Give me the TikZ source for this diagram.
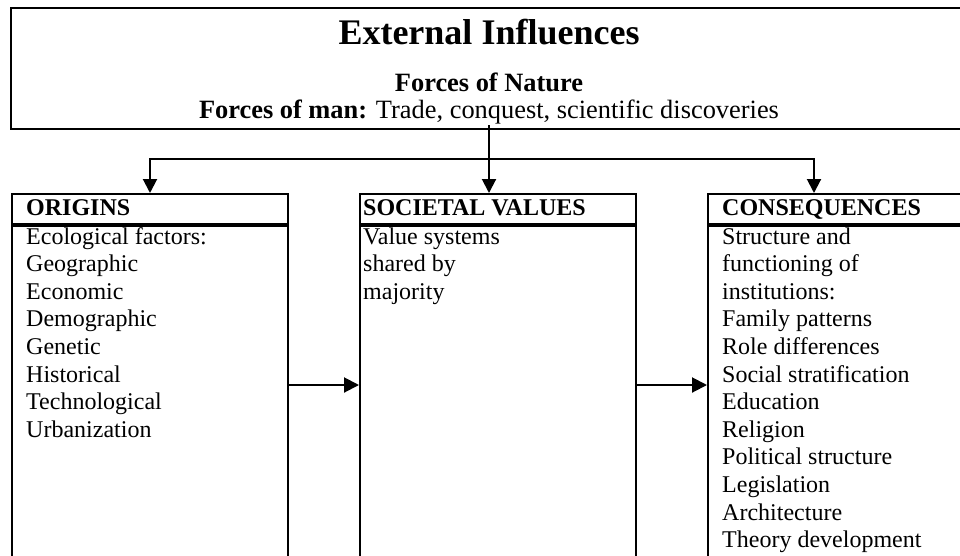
\documentclass[tikz,border=0pt]{standalone}
\usepackage{fontspec}
\setmainfont{Liberation Serif}
\usetikzlibrary{arrows.meta,positioning}

\begin{document}
\begin{tikzpicture}[
    x=1pt, y=-1pt,
    >=Triangle,
    frame/.style={rectangle, draw=black, line width=2pt, inner sep=0pt, anchor=north west},
    title/.style={anchor=base, inner sep=0pt, font=\fontsize{36}{40}\selectfont\bfseries},
    subline/.style={anchor=base, inner sep=0pt, font=\fontsize{26.4}{30}\selectfont},
    headtext/.style={anchor=base west, inner sep=0pt, font=\fontsize{24}{27.6}\selectfont\bfseries},
    bodytext/.style={anchor=base west, inner sep=0pt, font=\fontsize{24}{27.6}\selectfont},
    arrow/.style={-{Triangle[length=15pt,width=15pt]}, line width=2pt, color=black}
]

\useasboundingbox (0,0) rectangle (960,555);
\clip (0,0) rectangle (960,555);

% External influences frame (open to the right)
\node[frame, minimum width=1000pt, minimum height=121pt] (extbox) at (10,7) {};
\node[title] (exttitle) at (489,44) {External Influences};
\node[subline, font=\fontsize{26.4}{30}\selectfont\bfseries] (nature) at (489,91) {Forces of Nature};
\node[subline] (man) at (489,118) {\textbf{Forces of man:} Trade, conquest, scientific discoveries};

% Column frames: header strip and body below it
\node[frame, minimum width=276pt, minimum height=29.5pt] (orighead) at (11,193) {};
\node[frame, minimum width=276pt, minimum height=400pt] (origbody) at (orighead.south west) {};
\node[frame, minimum width=276pt, minimum height=29.5pt] (valhead) at (359,193) {};
\node[frame, minimum width=276pt, minimum height=400pt] (valbody) at (valhead.south west) {};
\node[frame, minimum width=276pt, minimum height=29.5pt] (conhead) at (707,193) {};
\node[frame, minimum width=276pt, minimum height=400pt] (conbody) at (conhead.south west) {};

% Column headings
\node[headtext] (origtitle) at (26,215) {ORIGINS};
\node[headtext] (valtitle) at (363,215) {SOCIETAL VALUES};
\node[headtext] (contitle) at (722,215) {CONSEQUENCES};

% Column entries
\foreach \entry [count=\i] in {Ecological factors:, Geographic, Economic, Demographic,
    Genetic, Historical, Technological, Urbanization}
    \node[bodytext] (orig\i) at (26,{244+27.6*(\i-1)}) {\entry};
\foreach \entry [count=\i] in {Value systems, shared by, majority}
    \node[bodytext] (val\i) at (363,{244+27.6*(\i-1)}) {\entry};
\foreach \entry [count=\i] in {Structure and, functioning of, institutions:, Family patterns,
    Role differences, Social stratification, Education, Religion, Political structure,
    Legislation, Architecture, Theory development}
    \node[bodytext] (con\i) at (722,{244+27.6*(\i-1)}) {\entry};

% Influence arrows from the top frame
\coordinate (drop) at (489,125);
\coordinate (barR) at (814,159);
\draw[arrow, -{Triangle[length=14pt,width=14pt]}] (drop) -- (drop |- valhead.north);
\draw[arrow, {Triangle[length=14pt,width=14pt]}-{Triangle[length=14pt,width=14pt]}]
    (orighead.north) |- (barR) -- (barR |- conhead.north);

% Flow between the columns
\coordinate (flow) at (0,385);
\draw[arrow] (origbody.east |- flow) -- (valbody.west |- flow);
\draw[arrow] (valbody.east |- flow) -- (conbody.west |- flow);

\end{tikzpicture}
\end{document}
